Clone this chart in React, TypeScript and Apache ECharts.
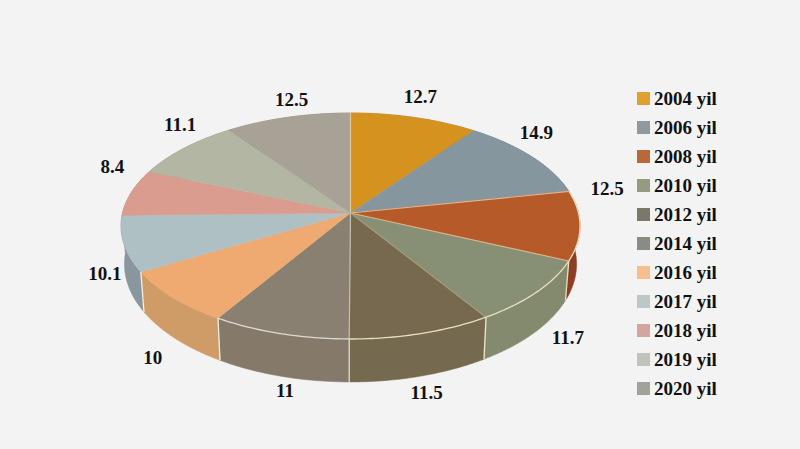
import React, { useEffect, useRef } from "react";
import * as echarts from "echarts";

const YEARS = ["2004 yil", "2006 yil", "2008 yil", "2010 yil", "2012 yil", "2014 yil", "2016 yil", "2017 yil", "2018 yil", "2019 yil", "2020 yil"];
const VALUES = [12.7, 14.9, 12.5, 11.7, 11.5, 11, 10, 10.1, 8.4, 11.1, 12.5];
const TOP_COLORS = ["#d6921f", "#85969f", "#b55a28", "#878f75", "#76694f", "#8a8072", "#eeaa70", "#afc0c5", "#d99c8e", "#b2b6a3", "#a8a196"];
const WALL_COLORS = ["#b07a20", "#6f7d85", "#8f3c24", "#848a6e", "#75694f", "#85796a", "#cf9c68", "#8a969e", "#b08070", "#90948a", "#8c8678"];
const LEGEND_COLORS = ["#e0a030", "#8f9a9f", "#b9683a", "#959a80", "#7b776a", "#8b8b85", "#f5c08d", "#bcc8c8", "#d3a5a0", "#c1c3bb", "#a2a29c"];
const SEAM = "#e8dfbf";
const START_RADIAL = ["#d8c9a8", null, "#e0b48c", "#d8b48c", "#a89c78", "#c4bfae", null, null, null, null, null];
const START_WALL = [null, null, null, "#e8dfbf", "#f0e8cc", "#dedad0", "#f2efe6", "#f2efe6", null, null, null];
const FRONT_ARC = [null, null, SEAM, SEAM, SEAM, "#dedad0", null, null, null, null, null];
const LABEL_NUDGE = [[6, -21], [5, -24], [27, -37], [31, 46], [5, 59], [5, 57], [-20, 60], [-19, 30], [-19, -26], [-4, -24], [4, -18]];

const CX = 350.5, HUB_Y = 213, A = 228, B = 111.5, K = 0.115;
const TOTAL = VALUES.reduce((s, v) => s + v, 0);
const startOf = (i: number) => VALUES.slice(0, i).reduce((s, v) => s + v, 0);

function rimPoint(deg: number): number[] {
  const t = (deg * Math.PI) / 180;
  const X = Math.sin(t), Y = Math.cos(t), w = 1 + K * Y;
  return [CX + (A * X) / w, HUB_Y - (B * Y) / w];
}
const floorPoint = (p: number[]) => [CX + 0.985 * (p[0] - CX), 264 + 1.044 * (p[1] - 226)];
function rimArc(a0: number, a1: number): number[][] {
  const n = Math.max(2, Math.ceil(Math.abs(a1 - a0)));
  const pts: number[][] = [];
  for (let j = 0; j <= n; j++) pts.push(rimPoint(a0 + ((a1 - a0) * j) / n));
  return pts;
}

function makeRender(i: number) {
  return (_params: any, api: any) => {
    const v = api.value(0) as number;
    const a0 = (startOf(i) / TOTAL) * 360;
    const a1 = a0 + (v / TOTAL) * 360;
    const arc = rimArc(a0, a1);
    const floor = arc.map(floorPoint);
    const hub = [CX, HUB_Y];
    const children: any[] = [
      { type: "polygon", z2: 1, shape: { points: [...arc, ...floor.slice().reverse()] }, style: { fill: WALL_COLORS[i], stroke: WALL_COLORS[i], lineWidth: 0.5 } },
      { type: "polygon", z2: 2, shape: { points: [hub, ...arc] }, style: { fill: TOP_COLORS[i], stroke: TOP_COLORS[i], lineWidth: 0.5 } },
    ];
    const p0 = arc[0];
    const q0 = floor[0];
    const radial = START_RADIAL[i];
    if (radial) children.push({ type: "polyline", z2: 3, shape: { points: [hub, p0] }, style: { stroke: radial, lineWidth: 1.2, fill: "none" } });
    const wall = START_WALL[i];
    if (wall) children.push({ type: "polyline", z2: 3, shape: { points: [p0, q0] }, style: { stroke: wall, lineWidth: 1.3, fill: "none" } });
    const front = FRONT_ARC[i];
    if (front) children.push({ type: "polyline", z2: 3, shape: { points: arc }, style: { stroke: front, lineWidth: 1.3, fill: "none" } });
    const mid = rimPoint((a0 + a1) / 2);
    children.push({
      type: "text", z2: 5,
      style: {
        text: String(v), x: mid[0] + LABEL_NUDGE[i][0], y: mid[1] + LABEL_NUDGE[i][1],
        fontFamily: "Liberation Serif", fontWeight: "bold", fontSize: 19, fill: "#111",
        textAlign: "center", textVerticalAlign: "middle",
      },
    });
    return { type: "group", children };
  };
}

export default function App() {
  const ref = useRef<HTMLDivElement>(null);
  useEffect(() => {
    document.body.style.margin = "0";
    const chart = echarts.init(ref.current!, undefined, { renderer: "svg" });
    chart.setOption({
      animation: false,
      backgroundColor: "#f3f3f3",
      legend: {
        orient: "vertical", left: 632, top: 84, icon: "rect", itemWidth: 13, itemHeight: 13, itemGap: 10,
        selectedMode: false,
        textStyle: { fontFamily: "Liberation Serif", fontWeight: "bold", fontSize: 19, color: "#111", padding: [0, 0, 0, -1] },
        data: YEARS.map((name, i) => ({ name, itemStyle: { color: LEGEND_COLORS[i] } })),
      },
      series: YEARS.map((name, i) => ({
        type: "custom", name, coordinateSystem: "none",
        data: [VALUES[i]],
        itemStyle: { color: TOP_COLORS[i] },
        renderItem: makeRender(i),
      })),
    });
    return () => chart.dispose();
  }, []);
  return <div ref={ref} style={{ width: 800, height: 449 }} />;
}
